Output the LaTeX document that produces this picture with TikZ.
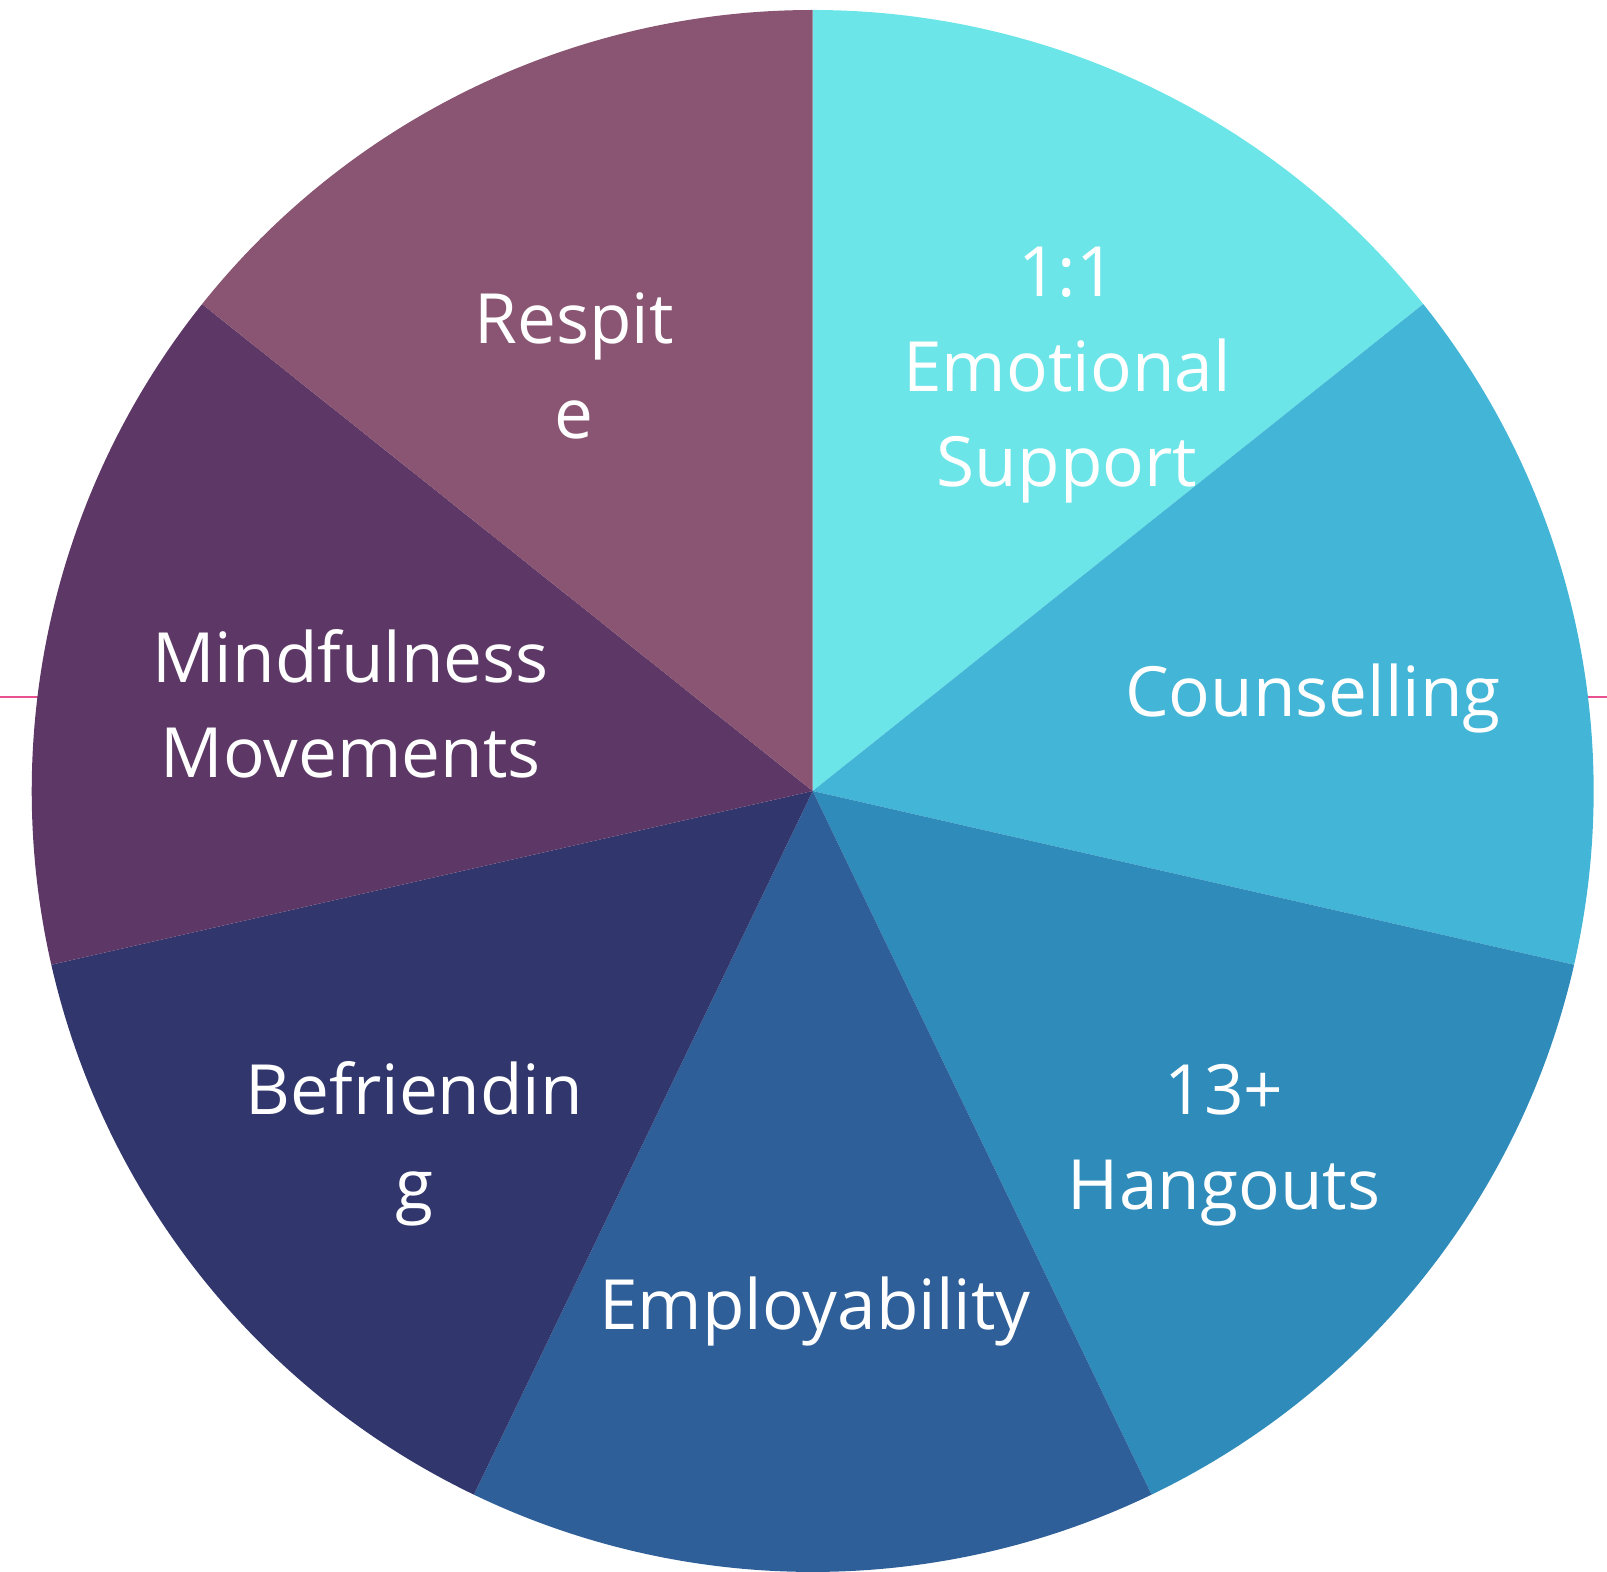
\documentclass[tikz,border=0pt]{standalone}
\usepackage{fontspec}
\setmainfont{Open Sans}
\usetikzlibrary{calc}
\definecolor{cA}{HTML}{6CE5E9}
\definecolor{cB}{HTML}{43B5D6}
\definecolor{cC}{HTML}{2E8BBA}
\definecolor{cD}{HTML}{2F5F98}
\definecolor{cE}{HTML}{31366D}
\definecolor{cF}{HTML}{5D3866}
\definecolor{cG}{HTML}{8A5572}
\definecolor{pinkline}{HTML}{E8508F}
\tikzset{
  lbl/.style={text=white, align=center, anchor=base, inner sep=0pt,
    font=\fontsize{69.3}{95}\selectfont},
  marker/.style={draw=pinkline, line width=1.8pt}
}
\begin{document}
\begin{tikzpicture}[x=1pt,y=1pt]
\useasboundingbox (0,0) rectangle (1607,1572);
\coordinate (C) at (812.7,781);
\def\R{781}
% pink marks
\coordinate (pl1) at (0,875.3);
\coordinate (pl2) at (40,875.3);
\coordinate (pr1) at (1587,875.3);
\coordinate (pr2) at (1607,875.3);
\draw[marker] (pl1) -- (pl2);
\draw[marker] (pr1) -- (pr2);
% slices
\foreach \k/\col in {0/cA,1/cB,2/cC,3/cD,4/cE,5/cF,6/cG}{
  \pgfmathsetmacro{\sa}{90-51.428571*\k}
  \pgfmathsetmacro{\ea}{90-51.428571*(\k+1)}
  \fill[\col] (C) -- ($(C)+(\sa:\R)$) arc[start angle=\sa, end angle=\ea, radius=\R] -- cycle;
}
% labels (base anchor = baseline of the last line)
\node[lbl] (emo) at (1067,1085) {1:1\\Emotional\\Support};
\node[lbl] (cou) at (1313,855) {Counselling};
\node[lbl] (hang) at (1224,362) {13+\\Hangouts};
\node[lbl] (emp) at (815,242) {Employability};
\node[lbl] (bef) at (414.5,362) {Befriendin\\g};
\node[lbl] (mind) at (350.5,794) {Mindfulness\\Movements};
\node[lbl] (resp) at (574,1133) {Respit\\e};
\end{tikzpicture}
\end{document}
